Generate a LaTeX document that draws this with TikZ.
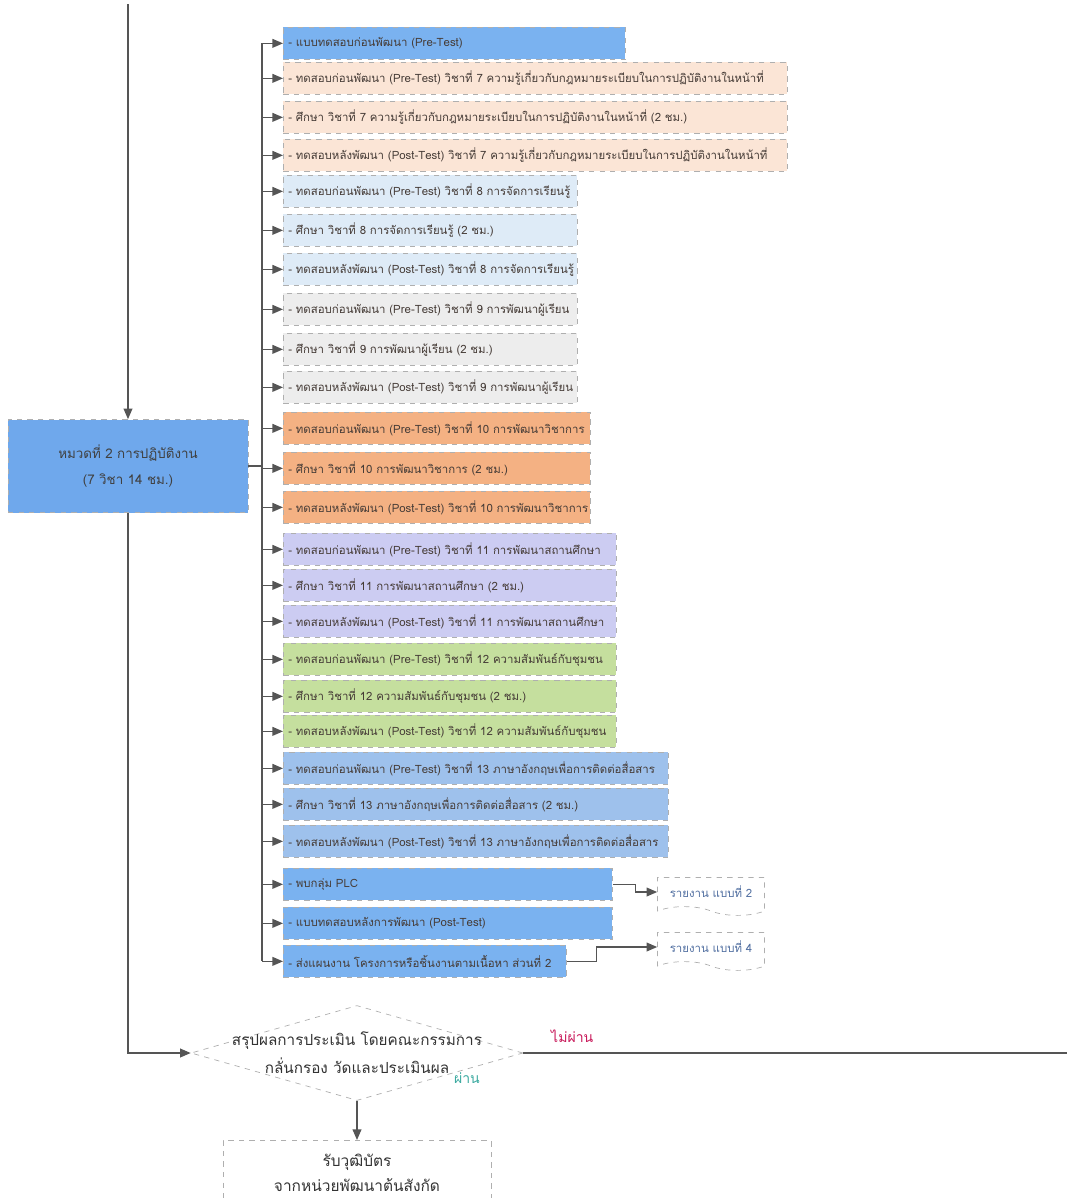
\documentclass[tikz,border=0pt]{standalone}
\usepackage{fontspec}
\newfontfamily\thaifont[Script=Thai]{Loma}
\usepackage{tikz}
\usetikzlibrary{
  positioning,
  arrows.meta,
  shapes.geometric,
  shapes.symbols,
  calc
}
\definecolor{headblue}{RGB}{111,168,236}
\definecolor{stepblue}{RGB}{122,178,240}
\definecolor{lawbg}{RGB}{251,229,214}
\definecolor{learnbg}{RGB}{222,235,247}
\definecolor{pupilbg}{RGB}{237,237,237}
\definecolor{acadbg}{RGB}{244,177,131}
\definecolor{schoolbg}{RGB}{204,204,242}
\definecolor{commbg}{RGB}{197,223,158}
\definecolor{langbg}{RGB}{158,193,236}
\definecolor{edgegray}{RGB}{175,175,175}
\definecolor{arrowcolor}{RGB}{85,85,85}
\definecolor{itemtext}{RGB}{70,60,55}
\definecolor{failred}{RGB}{200,25,90}
\definecolor{passteal}{RGB}{60,170,160}
\definecolor{doctext}{RGB}{80,110,160}
\tikzset{
  headbox/.style={
    draw=edgegray, dashed, fill=headblue,
    minimum width=4.8cm, minimum height=1.86cm,
    font=\thaifont\fontsize{7.6}{14.5}\selectfont, align=center, text=black!75
  },
  itembox/.style={
    draw=edgegray, dashed, anchor=north west,
    inner xsep=0.1cm, text width=#1, minimum height=0.64cm,
    font=\thaifont\fontsize{6.5}{8}\selectfont, align=left, text=itemtext,
    execute at begin node={\hbox\bgroup}, execute at end node={\egroup}
  },
  docbox/.style={
    draw=edgegray, dashed, tape, tape bend top=none,
    tape bend bottom=out and in, tape bend height=5pt,
    minimum width=2.14cm, minimum height=0.76cm,
    font=\thaifont\fontsize{6.5}{8}\selectfont, text=doctext
  },
  decision/.style={
    draw=edgegray, dashed, diamond, inner sep=0pt,
    minimum width=6.64cm, minimum height=1.9cm
  },
  decisiontext/.style={
    font=\thaifont\fontsize{8.7}{16}\selectfont, align=center, text=black!80
  },
  awardbox/.style={
    draw=edgegray, dashed, anchor=north,
    minimum width=5.36cm, minimum height=1.3cm,
    font=\thaifont\fontsize{8.8}{14.5}\selectfont, align=center, text=black!80
  },
  linkline/.style={
    line width=0.7pt, draw=arrowcolor
  },
  feedarrow/.style={
    -{Triangle[length=6pt,width=5pt]}, line width=0.7pt, draw=arrowcolor
  },
  faillabel/.style={font=\thaifont\fontsize{8}{9}\selectfont, text=failred},
  passlabel/.style={font=\thaifont\fontsize{8}{9}\selectfont, text=passteal}
}
\begin{document}
\begin{tikzpicture}[x=0.02cm, y=-0.02cm]

    \useasboundingbox (0,0) rectangle (1067,1198);

    % left column
    \coordinate (entry) at (128,4);
    \node[headbox] (main) at (128,466) {หมวดที่ 2 การปฏิบัติงาน\\(7 วิชา 14 ชม.)};

    % activity boxes
    \node[itembox=6.64cm, fill=stepblue] (t1) at (283,27) {- แบบทดสอบก่อนพัฒนา (Pre-Test)};

    \node[itembox=9.88cm, fill=lawbg] (t2) at (283,62) {- ทดสอบก่อนพัฒนา (Pre-Test) วิชาที่ 7 ความรู้เกี่ยวกับกฎหมายระเบียบในการปฏิบัติงานในหน้าที่};
    \node[itembox=9.88cm, fill=lawbg] (t3) at (283,101) {- ศึกษา วิชาที่ 7 ความรู้เกี่ยวกับกฎหมายระเบียบในการปฏิบัติงานในหน้าที่ (2 ชม.)};
    \node[itembox=9.88cm, fill=lawbg] (t4) at (283,139) {- ทดสอบหลังพัฒนา (Post-Test) วิชาที่ 7 ความรู้เกี่ยวกับกฎหมายระเบียบในการปฏิบัติงานในหน้าที่};

    \node[itembox=5.68cm, fill=learnbg] (t5) at (283,175) {- ทดสอบก่อนพัฒนา (Pre-Test) วิชาที่ 8 การจัดการเรียนรู้};
    \node[itembox=5.68cm, fill=learnbg] (t6) at (283,214) {- ศึกษา วิชาที่ 8 การจัดการเรียนรู้ (2 ชม.)};
    \node[itembox=5.68cm, fill=learnbg] (t7) at (283,253) {- ทดสอบหลังพัฒนา (Post-Test) วิชาที่ 8 การจัดการเรียนรู้};

    \node[itembox=5.68cm, fill=pupilbg] (t8) at (283,293) {- ทดสอบก่อนพัฒนา (Pre-Test) วิชาที่ 9 การพัฒนาผู้เรียน};
    \node[itembox=5.68cm, fill=pupilbg] (t9) at (283,333) {- ศึกษา วิชาที่ 9 การพัฒนาผู้เรียน (2 ชม.)};
    \node[itembox=5.68cm, fill=pupilbg] (t10) at (283,371) {- ทดสอบหลังพัฒนา (Post-Test) วิชาที่ 9 การพัฒนาผู้เรียน};

    \node[itembox=5.94cm, fill=acadbg] (t11) at (283,412) {- ทดสอบก่อนพัฒนา (Pre-Test) วิชาที่ 10 การพัฒนาวิชาการ};
    \node[itembox=5.94cm, fill=acadbg] (t12) at (283,452) {- ศึกษา วิชาที่ 10 การพัฒนาวิชาการ (2 ชม.)};
    \node[itembox=5.94cm, fill=acadbg] (t13) at (283,491) {- ทดสอบหลังพัฒนา (Post-Test) วิชาที่ 10 การพัฒนาวิชาการ};

    \node[itembox=6.46cm, fill=schoolbg] (t14) at (283,533) {- ทดสอบก่อนพัฒนา (Pre-Test) วิชาที่ 11 การพัฒนาสถานศึกษา};
    \node[itembox=6.46cm, fill=schoolbg] (t15) at (283,569) {- ศึกษา วิชาที่ 11 การพัฒนาสถานศึกษา (2 ชม.)};
    \node[itembox=6.46cm, fill=schoolbg] (t16) at (283,605) {- ทดสอบหลังพัฒนา (Post-Test) วิชาที่ 11 การพัฒนาสถานศึกษา};

    \node[itembox=6.46cm, fill=commbg] (t17) at (283,643) {- ทดสอบก่อนพัฒนา (Pre-Test) วิชาที่ 12 ความสัมพันธ์กับชุมชน};
    \node[itembox=6.46cm, fill=commbg] (t18) at (283,680) {- ศึกษา วิชาที่ 12 ความสัมพันธ์กับชุมชน (2 ชม.)};
    \node[itembox=6.46cm, fill=commbg] (t19) at (283,715) {- ทดสอบหลังพัฒนา (Post-Test) วิชาที่ 12 ความสัมพันธ์กับชุมชน};

    \node[itembox=7.50cm, fill=langbg] (t20) at (283,752) {- ทดสอบก่อนพัฒนา (Pre-Test) วิชาที่ 13 ภาษาอังกฤษเพื่อการติดต่อสื่อสาร};
    \node[itembox=7.50cm, fill=langbg] (t21) at (283,788) {- ศึกษา วิชาที่ 13 ภาษาอังกฤษเพื่อการติดต่อสื่อสาร (2 ชม.)};
    \node[itembox=7.50cm, fill=langbg] (t22) at (283,825) {- ทดสอบหลังพัฒนา (Post-Test) วิชาที่ 13 ภาษาอังกฤษเพื่อการติดต่อสื่อสาร};

    \node[itembox=6.38cm, fill=stepblue] (t23) at (283,868) {- พบกลุ่ม PLC};
    \node[itembox=6.38cm, fill=stepblue] (t24) at (283,907) {- แบบทดสอบหลังการพัฒนา (Post-Test)};
    \node[itembox=5.46cm, fill=stepblue] (t25) at (283,945) {- ส่งแผนงาน โครงการหรือชิ้นงานตามเนื้อหา ส่วนที่ 2};

    % reports
    \node[docbox] (rep2) at (711,892) {รายงาน แบบที่ 2};
    \node[docbox] (rep4) at (711,947) {รายงาน แบบที่ 4};

    % evaluation
    \node[decision, label={[decisiontext]center:{สรุปผลการประเมิน โดยคณะกรรมการ\\กลั่นกรอง วัดและประเมินผล}}] (judge) at (357,1053) {};
    \node[awardbox] (award) at (357,1140) {รับวุฒิบัตร\\จากหน่วยพัฒนาต้นสังกัด};
    \coordinate (failend) at (1067,1053);

    % connectors
    \coordinate (trunk) at (262,0);
    \draw[feedarrow] (entry) -- (main.north);
    \draw[linkline] (main.east) -- (main.east -| trunk);
    \draw[linkline] (t1.west -| trunk) -- (t25.west -| trunk);
    \foreach \t in {t1,t2,t3,t4,t5,t6,t7,t8,t9,t10,t11,t12,t13,t14,t15,t16,t17,t18,t19,t20,t21,t22,t23,t24,t25}
      \draw[feedarrow] (\t.west -| trunk) -- (\t.west);
    \draw[feedarrow] (t23.east) -- ++(23,0) |- (rep2.west);
    \draw[feedarrow] (t25.east) -- ++(30,0) |- (rep4.west);
    \draw[feedarrow] (main.south) |- (judge.west);
    \draw[linkline] (judge.east) -- node[pos=0.09, above=2pt, faillabel] {ไม่ผ่าน} (failend);
    \draw[feedarrow] (judge.south) -- (award.north) node[pos=0, passlabel, xshift=2.2cm, yshift=0.46cm] {ผ่าน};

  \end{tikzpicture}
\end{document}
